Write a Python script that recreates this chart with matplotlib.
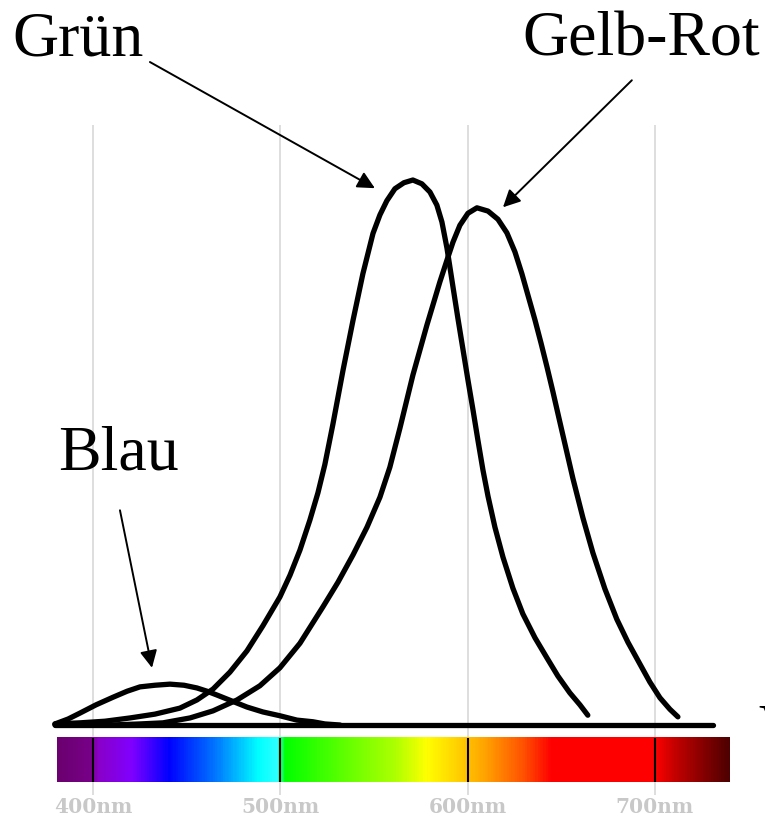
import numpy as np
import matplotlib
matplotlib.use('Agg')
import matplotlib.pyplot as plt
from matplotlib.colors import LinearSegmentedColormap

# relative sensitivity (wavelength in nm, 0..1)
green_nm = [379.7, 393.1, 406.4, 419.8, 433.1, 446.4, 455.5, 464.1, 473.1, 482.2,
            490.7, 499.8, 505.2, 510.5, 515.8, 520.1, 523.8, 528.1, 533.5, 538.8,
            544.1, 549.5, 553.2, 556.9, 561.2, 566.0, 570.8, 575.6, 579.9, 583.6,
            586.3, 589.0, 592.2, 594.8, 597.5, 600.2, 602.9, 605.5, 608.2, 610.9,
            614.6, 618.9, 624.2, 629.5, 636.0, 642.4, 648.2, 654.6, 660.0, 664.2]
green_s = [0.002, 0.004, 0.007, 0.013, 0.020, 0.031, 0.046, 0.066, 0.097, 0.136,
           0.182, 0.235, 0.275, 0.321, 0.376, 0.426, 0.478, 0.552, 0.651, 0.742,
           0.828, 0.902, 0.936, 0.962, 0.984, 0.995, 1.000, 0.993, 0.978, 0.954,
           0.923, 0.875, 0.804, 0.747, 0.690, 0.633, 0.578, 0.523, 0.468, 0.420,
           0.363, 0.308, 0.251, 0.204, 0.160, 0.123, 0.090, 0.059, 0.037, 0.018]

red_nm = [379.7, 409.1, 425.1, 437.4, 451.8, 464.1, 476.9, 489.1, 499.8, 510.5,
          522.8, 530.8, 538.8, 546.3, 553.2, 558.5, 563.9, 570.8, 578.3, 585.2,
          589.0, 592.2, 595.9, 600.2, 605.0, 610.9, 616.2, 621.0, 625.3, 629.0,
          632.7, 636.0, 639.2, 642.4, 645.6, 648.8, 652.5, 656.2, 661.6, 666.9,
          673.3, 679.7, 685.6, 692.0, 697.3, 702.7, 708.0, 712.3]
red_s = [0.000, 0.000, 0.002, 0.004, 0.013, 0.026, 0.046, 0.072, 0.105, 0.150,
         0.217, 0.262, 0.312, 0.363, 0.418, 0.473, 0.545, 0.642, 0.734, 0.813,
         0.853, 0.886, 0.917, 0.939, 0.949, 0.943, 0.928, 0.903, 0.868, 0.828,
         0.783, 0.743, 0.701, 0.657, 0.611, 0.563, 0.508, 0.453, 0.380, 0.316,
         0.250, 0.194, 0.152, 0.112, 0.079, 0.050, 0.029, 0.015]

blue_nm = [379.7, 386.7, 393.1, 401.6, 410.7, 418.2, 425.1, 433.1, 441.1, 448.6,
           455.5, 460.9, 466.2, 474.2, 482.2, 490.7, 499.8, 508.9, 517.4, 523.8, 531.9]
blue_s = [0.002, 0.011, 0.022, 0.037, 0.051, 0.062, 0.070, 0.073, 0.075, 0.073,
          0.068, 0.062, 0.055, 0.044, 0.033, 0.024, 0.017, 0.009, 0.006, 0.002, 0.000]

baseline_nm = [379.7, 731.0]
ticks_nm = [400, 500, 600, 700]
tick_labels = ['400nm', '500nm', '600nm', '700nm']

# colour stops of the spectrum strip
spec_nm = [380.8, 398, 402, 420, 440, 465, 488, 498, 502, 545, 562, 578, 595,
           610, 630, 645, 700, 712, 739.6]
spec_col = ['#6c0070', '#780088', '#8a00c8', '#8000ff', '#0000ff', '#0078ff',
            '#00ffff', '#30ffff', '#00ff00', '#80ff00', '#b0ff00', '#ffff00',
            '#ffd000', '#ffa000', '#ff5000', '#ff0000', '#ff0000', '#c00000',
            '#500000']

fig = plt.figure(figsize=(7.65, 8.18), dpi=100)
ax = fig.add_axes([0, 0, 1, 1])
ax.set_xlim(350.35, 758.8)
ax.set_ylim(-0.1706, 1.3303)
ax.axis('off')

# grid lines
ax.vlines(ticks_nm, -0.128, 1.101, color='#d8d8d8', lw=1.2, zorder=1)

# spectrum strip
pos = [(w - spec_nm[0]) / (spec_nm[-1] - spec_nm[0]) for w in spec_nm]
cmap = LinearSegmentedColormap.from_list('spec', list(zip(pos, spec_col)))
ax.imshow(np.linspace(0, 1, 600).reshape(1, -1), cmap=cmap, aspect='auto',
          extent=[spec_nm[0], spec_nm[-1], -0.105, -0.024], zorder=2)
ax.vlines(ticks_nm, -0.105, -0.024, color='black', lw=1.5, zorder=3)

for t, lab in zip(ticks_nm, tick_labels):
    ax.text(t, -0.150, lab, ha='center', va='center', fontsize=14.5,
            family='DejaVu Serif', fontweight='bold', color='#c8c8c8')

# curves
kw = dict(color='black', lw=3.8, solid_capstyle='round', solid_joinstyle='round', zorder=4)
ax.plot(baseline_nm, [0, 0], **kw)
ax.plot(blue_nm, blue_s, **kw)
ax.plot(green_nm, green_s, **kw)
ax.plot(red_nm, red_s, **kw)

# labels with arrows
tkw = dict(fontsize=46, family='Liberation Serif', ha='left', va='baseline')
ax.text(356.8, 1.229, 'Grün', **tkw)
ax.text(629.0, 1.229, 'Gelb-Rot', **tkw)
ax.text(381.3, 0.468, 'Blau', **tkw)
ax.text(755.5, 0.040, 'V', fontsize=40, family='Liberation Serif', ha='left', va='top')

akw = dict(arrowstyle='-|>', color='black', lw=1.4, mutation_scale=26, shrinkA=0, shrinkB=0)
ax.annotate('', xy=(550.5, 0.985), xytext=(430.4, 1.2165), arrowprops=akw)
ax.annotate('', xy=(618.9, 0.950), xytext=(687.7, 1.183), arrowprops=akw)
ax.annotate('', xy=(431.5, 0.105), xytext=(414.4, 0.394), arrowprops=akw)

fig.savefig('out.png', dpi=100)
